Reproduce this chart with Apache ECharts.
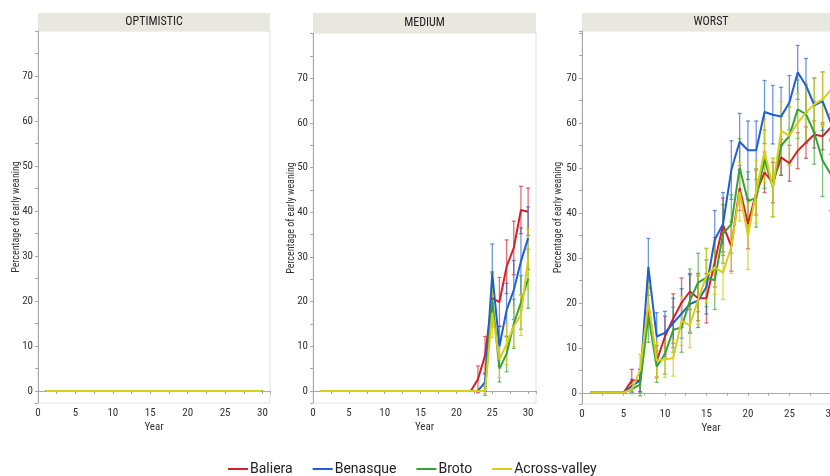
<!DOCTYPE html>
<html>
<head>
<meta charset="utf-8">
<script src="https://cdn.jsdelivr.net/npm/echarts@6/dist/echarts.min.js"></script>
<style>
  html, body { margin: 0; padding: 0; background: #fff; }
  #chart { width: 830px; height: 476px; }
</style>
</head>
<body>
<div id="chart"></div>
<script>
// years on the x axis
const years = [1, 2, 3, 4, 5, 6, 7, 8, 9, 10, 11, 12, 13, 14, 15, 16, 17, 18, 19, 20, 21, 22, 23, 24, 25, 26, 27, 28, 29, 30]
const seriesNames = ['Baliera', 'Benasque', 'Broto', 'Across-valley']
const panelTitles = ['OPTIMISTIC', 'MEDIUM', 'WORST']

// OPTIMISTIC: everything stays at zero
const optBaliera = [0, 0, 0, 0, 0, 0, 0, 0, 0, 0, 0, 0, 0, 0, 0, 0, 0, 0, 0, 0, 0, 0, 0, 0, 0, 0, 0, 0, 0, 0]
const optBenasque = [0, 0, 0, 0, 0, 0, 0, 0, 0, 0, 0, 0, 0, 0, 0, 0, 0, 0, 0, 0, 0, 0, 0, 0, 0, 0, 0, 0, 0, 0]
const optBroto = [0, 0, 0, 0, 0, 0, 0, 0, 0, 0, 0, 0, 0, 0, 0, 0, 0, 0, 0, 0, 0, 0, 0, 0, 0, 0, 0, 0, 0, 0]
const optAcross = [0, 0, 0, 0, 0, 0, 0, 0, 0, 0, 0, 0, 0, 0, 0, 0, 0, 0, 0, 0, 0, 0, 0, 0, 0, 0, 0, 0, 0, 0]

// MEDIUM
const medBaliera = [0, 0, 0, 0, 0, 0, 0, 0, 0, 0, 0, 0, 0, 0, 0, 0, 0, 0, 0, 0, 0, 0, 2.6, 8, 20.8, 19.9, 27.8, 32, 40.5, 40.1]
const medBenasque = [0, 0, 0, 0, 0, 0, 0, 0, 0, 0, 0, 0, 0, 0, 0, 0, 0, 0, 0, 0, 0, 0, 0, 2, 26.3, 10, 18.1, 22.6, 29, 34.2]
const medBroto = [0, 0, 0, 0, 0, 0, 0, 0, 0, 0, 0, 0, 0, 0, 0, 0, 0, 0, 0, 0, 0, 0, 0, 0, 20.5, 5, 8.3, 15, 19.8, 25.1]
const medAcross = [0, 0, 0, 0, 0, 0, 0, 0, 0, 0, 0, 0, 0, 0, 0, 0, 0, 0, 0, 0, 0, 0, 0, 0, 17.5, 7, 10.5, 14.5, 17, 29.5]
// error bar half widths
const medBalieraErr = [0, 0, 0, 0, 0, 0, 0, 0, 0, 0, 0, 0, 0, 0, 0, 0, 0, 0, 0, 0, 0, 0, 3, 4.2, 5.6, 5.5, 6, 6, 5.3, 5.3]
const medBenasqueErr = [0, 0, 0, 0, 0, 0, 0, 0, 0, 0, 0, 0, 0, 0, 0, 0, 0, 0, 0, 0, 0, 0, 0, 2, 6.6, 4.5, 6, 6.6, 7.5, 7]
const medBrotoErr = [0, 0, 0, 0, 0, 0, 0, 0, 0, 0, 0, 0, 0, 0, 0, 0, 0, 0, 0, 0, 0, 0, 0, 1, 6.2, 3, 4, 5.5, 6, 6.6]
const medAcrossErr = [0, 0, 0, 0, 0, 0, 0, 0, 0, 0, 0, 0, 0, 0, 0, 0, 0, 0, 0, 0, 0, 0, 0, 0.6, 5.5, 4, 4.6, 4.6, 4.6, 6.8]

// WORST
const worBaliera = [0, 0, 0, 0, 0, 2.7, 2.7, 19.5, 7, 12.5, 16.5, 20, 22.5, 21, 21, 29, 37.3, 32.5, 45.5, 37.5, 44.5, 49, 46.7, 52.3, 51, 53.8, 55.6, 57.4, 57, 59]
const worBenasque = [0, 0, 0, 0, 0, 1.5, 2.7, 28, 12.5, 13.3, 15.5, 17.6, 19.7, 20.5, 23.5, 34, 37.5, 49.5, 55.8, 53.9, 53.9, 62.4, 61.8, 61.4, 64.5, 71.2, 68.3, 63.9, 64.8, 60]
const worBroto = [0, 0, 0, 0, 0, 0.8, 1.8, 17.2, 5.8, 8.6, 14, 14.5, 20.5, 24.5, 25.6, 25, 35.3, 37.5, 50, 42.6, 43.3, 51.9, 45.6, 54.9, 57.1, 63, 61.9, 57.8, 51.6, 48.5]
const worAcross = [0, 0, 0, 0, 0, 0.8, 5, 20, 7.2, 7.4, 7.7, 16, 15, 20.7, 26, 27.9, 26.7, 32.5, 44.7, 34.9, 44.7, 53.8, 45.6, 58.2, 57.1, 60, 62.3, 64.1, 65.2, 67.3]
const worBalieraErr = [0, 0, 0, 0, 0, 2.5, 2.5, 4, 3.5, 4.5, 5.5, 5.5, 4, 5, 5.5, 5.5, 6, 5.5, 5, 5.5, 5, 4.5, 4.5, 4, 4, 4, 3.5, 3, 3, 3]
const worBenasqueErr = [0, 0, 0, 0, 0, 1.5, 2.5, 6.3, 5.3, 4.8, 5.5, 5.5, 6.5, 6, 6, 6.5, 7, 6.5, 6.3, 6.5, 6.5, 7, 6.5, 6.5, 6, 6, 6, 6, 6.5, 7]
const worBrotoErr = [0, 0, 0, 0, 0, 1, 2.5, 6, 3.5, 4.5, 5, 5.5, 7, 6.5, 6.5, 6.5, 6.5, 6.5, 6.5, 6.5, 6.5, 6.5, 6.5, 6.5, 6.5, 6.5, 6.5, 7, 8, 8]
const worAcrossErr = [0, 0, 0, 0, 0, 1, 3.5, 4.5, 4, 4, 4, 5.5, 5, 5.5, 6, 6, 6, 6, 6.5, 7.5, 7, 7, 6.5, 6.5, 6.5, 6.5, 6.5, 6, 6, 5.5]

const colors = ['#d3212b', '#1f5fd3', '#35a238', '#d8cf18']
const errColors = ['rgba(211,33,43,0.65)', 'rgba(31,95,211,0.65)', 'rgba(53,162,56,0.65)', 'rgba(216,207,24,0.8)']

const panelValues = [
    [optBaliera, optBenasque, optBroto, optAcross],
    [medBaliera, medBenasque, medBroto, medAcross],
    [worBaliera, worBenasque, worBroto, worAcross]
]
const panelErrors = [
    null,
    [medBalieraErr, medBenasqueErr, medBrotoErr, medAcrossErr],
    [worBalieraErr, worBenasqueErr, worBrotoErr, worAcrossErr]
]

// panel frames (pixels)
const panels = [
    { left: 38, top: 31, width: 232, height: 372, xMax: 31, yMin: -2.67, yMax: 80, gap: 17 },
    { left: 313, top: 33, width: 223, height: 370, xMax: 31.1, yMin: -2.69, yMax: 80.1, gap: 17 },
    { left: 582, top: 31, width: 258, height: 373, xMax: 31.1, yMin: -2.5, yMax: 80.4, gap: 19 }
]

const fontFamily = '"Liberation Sans Narrow", "Roboto Condensed", "Liberation Sans", sans-serif'

const chart = echarts.init(document.getElementById('chart'))

const grids = panels.map(p => ({
    left: p.left, top: p.top, width: p.width, height: p.height,
    outerBoundsMode: 'none', containLabel: false,
    show: true, borderColor: '#e2e2e2', borderWidth: 1, backgroundColor: '#fff'
}))

const xAxes = panels.map((p, i) => ({
    type: 'value', gridIndex: i, min: 0, max: p.xMax,
    splitNumber: 12, minInterval: 2.5, maxInterval: 2.5,
    name: 'Year', nameLocation: 'middle', nameGap: 19, nameMoveOverlap: false,
    nameTextStyle: { fontSize: 11, color: '#333', fontFamily },
    axisLine: { show: true, lineStyle: { color: '#a8a8a8', width: 1 } },
    axisTick: { show: true, length: 3, lineStyle: { color: '#a8a8a8' } },
    axisLabel: {
        fontSize: 11, color: '#333', fontFamily, margin: 5,
        formatter: v => (v % 5 === 0 && v <= 30) ? String(v) : ''
    },
    splitLine: { show: false }
}))

const yAxes = panels.map((p, i) => ({
    type: 'value', gridIndex: i, min: p.yMin, max: p.yMax,
    splitNumber: 16, minInterval: 5, maxInterval: 5,
    name: 'Percentage of early weaning', nameLocation: 'middle', nameGap: p.gap, nameMoveOverlap: false,
    nameTextStyle: { fontSize: 10, color: '#333', fontFamily },
    axisLine: { show: true, lineStyle: { color: '#a8a8a8', width: 1 } },
    axisTick: { show: true, length: 3, lineStyle: { color: '#a8a8a8' } },
    axisLabel: {
        fontSize: 11, color: '#333', fontFamily, margin: 5,
        formatter: v => (v % 10 === 0 && v >= 0 && v <= 70) ? String(v) : ''
    },
    splitLine: { show: false }
}))

function errorBar(color) {
    return function (params, api) {
        const x = api.value(0)
        const v = api.value(1)
        const e = api.value(2)
        const top = api.coord([x, v + e])
        const bot = api.coord([x, v - e])
        const cap = 2
        const style = { stroke: color, lineWidth: 1.3 }
        return {
            type: 'group',
            children: [
                { type: 'line', shape: { x1: top[0], y1: top[1], x2: bot[0], y2: bot[1] }, style },
                { type: 'line', shape: { x1: top[0] - cap, y1: top[1], x2: top[0] + cap, y2: top[1] }, style },
                { type: 'line', shape: { x1: bot[0] - cap, y1: bot[1], x2: bot[0] + cap, y2: bot[1] }, style }
            ]
        }
    }
}

const series = []
panelValues.forEach((group, pi) => {
    if (panelErrors[pi]) {
        group.forEach((vals, si) => {
            const errs = panelErrors[pi][si]
            const data = []
            years.forEach((y, k) => {
                if (errs[k] > 0) data.push([y, vals[k], errs[k]])
            })
            series.push({
                type: 'custom', name: 'err-' + pi + '-' + si,
                xAxisIndex: pi, yAxisIndex: pi, z: 1,
                renderItem: errorBar(errColors[si]),
                encode: { x: 0, y: 1 },
                data
            })
        })
    }
    group.forEach((vals, si) => {
        series.push({
            type: 'line', name: seriesNames[si],
            xAxisIndex: pi, yAxisIndex: pi, z: 3,
            showSymbol: false, symbol: 'none',
            color: colors[si],
            lineStyle: { width: 2, color: colors[si] },
            data: years.map((y, k) => [y, vals[k]])
        })
    })
})

const graphics = []
panels.forEach((p, i) => {
    graphics.push({
        type: 'rect', left: p.left, top: 13,
        shape: { width: p.width, height: p.top - 13 },
        style: { fill: '#e9e8df' }, z: 10
    })
    graphics.push({
        type: 'text', x: p.left + p.width / 2, y: 13 + (p.top - 13) / 2,
        style: {
            text: panelTitles[i], fill: '#222', font: '12px ' + fontFamily,
            textAlign: 'center', textVerticalAlign: 'middle'
        }, z: 11
    })
})

chart.setOption({
    animation: false,
    backgroundColor: '#fff',
    grid: grids,
    xAxis: xAxes,
    yAxis: yAxes,
    legend: {
        data: seriesNames,
        left: 223, top: 457,
        icon: 'rect', itemWidth: 20, itemHeight: 2, itemGap: 20,
        textStyle: { fontSize: 14, color: '#222', fontFamily: 'Roboto, "Noto Sans", sans-serif', padding: [0, 0, 0, -3] }
    },
    graphic: graphics,
    series
})
</script>
</body>
</html>
